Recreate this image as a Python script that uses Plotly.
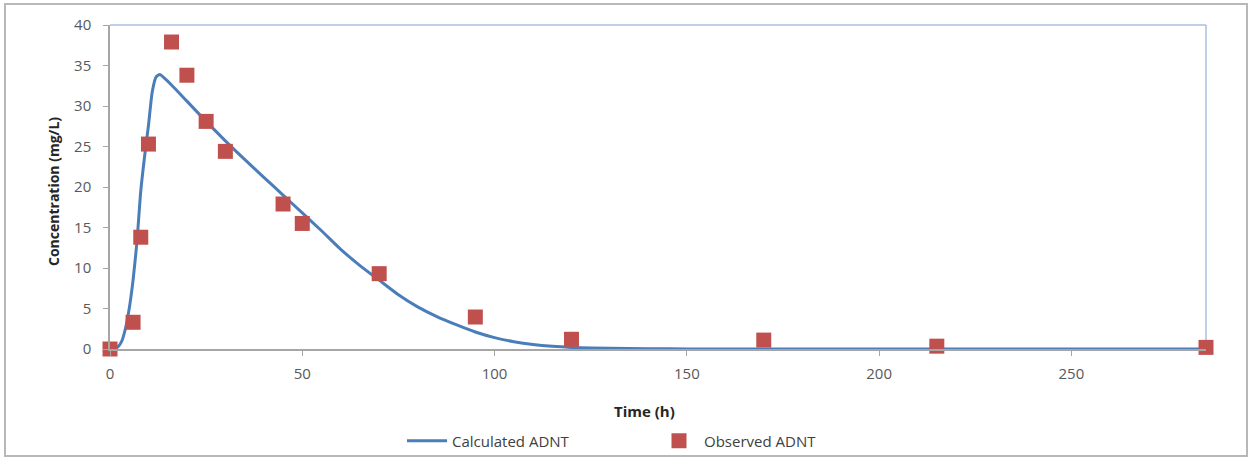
import plotly.graph_objects as go

obs_time = [0, 6, 8, 10, 16, 20, 25, 30, 45, 50, 70, 95, 120, 170, 215, 285]
obs_conc = [0, 3.3, 13.8, 25.3, 37.9, 33.8, 28.1, 24.4, 17.9, 15.5, 9.3, 3.95, 1.2, 1.1, 0.35, 0.2]

# Calculated curve
calc_time = [0, 1, 2, 3, 4, 5, 6, 7, 8, 9, 10, 11, 12, 13, 14, 16, 20, 25, 30, 35, 40, 45,
             50, 55, 60, 65, 70, 75, 80, 85, 90, 95, 100, 105, 110, 115, 120, 130, 140, 150, 200, 285]
calc_conc = [0, 0.05, 0.25, 0.9, 2.5, 5.0, 8.5, 13.2, 19.5, 23.8, 27.6, 31.8, 33.6, 33.9, 33.5, 32.6, 30.6,
             28.1, 25.7, 23.4, 21.2, 19.0, 16.8, 14.6, 12.3, 10.3, 8.5, 6.7, 5.2, 4.0, 3.0, 2.1, 1.4,
             0.9, 0.55, 0.33, 0.2, 0.08, 0.03, 0.01, 0, 0]

x_ticks = [0, 50, 100, 150, 200, 250]
y_ticks = [0, 5, 10, 15, 20, 25, 30, 35, 40]

FONT = "Open Sans"
TICK_COLOR = "#595959"

fig = go.Figure()
fig.add_trace(go.Scatter(x=calc_time, y=calc_conc, mode="lines", name="Calculated ADNT",
                         line=dict(color="#4A7EBB", width=3, shape="spline", smoothing=0.6)))
fig.add_trace(go.Scatter(x=obs_time, y=obs_conc, mode="markers", name="Observed ADNT",
                         marker=dict(symbol="square", size=15, color="#C0504D"),
                         cliponaxis=False))

L, R, T, B = 110, 1206, 25, 349
W, H = 1250, 460
pw, ph = R - L, B - T

def px(xp):
    return (xp - L) / pw

def py(yp):
    return (B - yp) / ph

fig.update_layout(
    width=W, height=H,
    margin=dict(l=L, r=W - R, t=T, b=H - B, autoexpand=False),
    paper_bgcolor="white", plot_bgcolor="white",
    font=dict(family=FONT, size=14, color=TICK_COLOR),
    showlegend=True,
    legend=dict(orientation="h", x=px(402), y=py(441), xanchor="left", yanchor="middle",
                font=dict(family=FONT, size=15, color="#404040"),
                entrywidth=197, entrywidthmode="pixels", itemwidth=40,
                bgcolor="rgba(0,0,0,0)"),
    xaxis=dict(range=[0, 285], tickvals=x_ticks, showgrid=False, zeroline=False,
               showline=True, linecolor="#A6A6A6", linewidth=1.5,
               ticks="outside", ticklen=5, tickcolor="#A6A6A6", ticklabelstandoff=5,
               tickfont=dict(family=FONT, size=15, color=TICK_COLOR)),
    yaxis=dict(range=[0, 40], tickvals=y_ticks, showgrid=False, zeroline=False,
               showline=True, linecolor="#A6A6A6", linewidth=1.5,
               ticks="outside", ticklen=5, tickcolor="#A6A6A6", ticklabelstandoff=9,
               tickfont=dict(family=FONT, size=15, color=TICK_COLOR)),
    shapes=[
        # top and right plot-area border (light blue)
        dict(type="line", xref="paper", yref="paper", x0=0, x1=1, y0=1, y1=1,
             line=dict(color="#A7C0DE", width=1.5), layer="below"),
        dict(type="line", xref="paper", yref="paper", x0=1, x1=1, y0=0, y1=1,
             line=dict(color="#A7C0DE", width=1.5), layer="below"),
        # outer chart border
        dict(type="rect", xref="paper", yref="paper", x0=px(5), x1=px(1247), y0=py(456), y1=py(4),
             line=dict(color="#B8B8B8", width=2), layer="below"),
    ],
    annotations=[
        dict(text="<b>Concentration (mg/L)</b>", xref="paper", yref="paper",
             x=px(53), y=py(192), textangle=-90, showarrow=False,
             xanchor="center", yanchor="middle",
             font=dict(family=FONT, size=14, color="#262626")),
        dict(text="<b>Time (h)</b>", xref="paper", yref="paper",
             x=px(644), y=py(411), showarrow=False,
             xanchor="center", yanchor="middle",
             font=dict(family=FONT, size=15, color="#262626")),
    ],
)

fig.write_html("out.html")
